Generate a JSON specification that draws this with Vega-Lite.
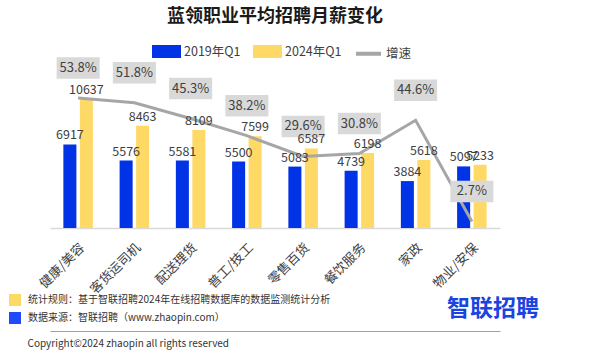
{
  "$schema": "https://vega.github.io/schema/vega-lite/v6.json",
  "width": 450,
  "height": 145,
  "autosize": {"type": "none"},
  "padding": {"left": 50, "top": 83, "right": 103, "bottom": 132},
  "background": "white",
  "config": {"view": {"stroke": null}, "font": "Noto Sans CJK SC"},
  "title": {"text": "蓝领职业平均招聘月薪变化", "fontSize": 18, "font": "Noto Sans CJK SC", "fontWeight": "bold", "color": "#1a1a1a", "anchor": "middle", "frame": "group", "offset": 11},
  "datasets": {
    "bars": [
      {"cat": "健康/美容", "series": "2019年Q1", "value": 6917},
      {"cat": "健康/美容", "series": "2024年Q1", "value": 10637},
      {"cat": "客货运司机", "series": "2019年Q1", "value": 5576},
      {"cat": "客货运司机", "series": "2024年Q1", "value": 8463},
      {"cat": "配送理货", "series": "2019年Q1", "value": 5581},
      {"cat": "配送理货", "series": "2024年Q1", "value": 8109},
      {"cat": "普工/技工", "series": "2019年Q1", "value": 5500},
      {"cat": "普工/技工", "series": "2024年Q1", "value": 7599},
      {"cat": "零售百货", "series": "2019年Q1", "value": 5083},
      {"cat": "零售百货", "series": "2024年Q1", "value": 6587},
      {"cat": "餐饮服务", "series": "2019年Q1", "value": 4739},
      {"cat": "餐饮服务", "series": "2024年Q1", "value": 6198},
      {"cat": "家政", "series": "2019年Q1", "value": 3884},
      {"cat": "家政", "series": "2024年Q1", "value": 5618},
      {"cat": "物业/安保", "series": "2019年Q1", "value": 5097},
      {"cat": "物业/安保", "series": "2024年Q1", "value": 5233}
    ],
    "growth": [
      {"cat": "健康/美容", "rate": 0.538},
      {"cat": "客货运司机", "rate": 0.518},
      {"cat": "配送理货", "rate": 0.453},
      {"cat": "普工/技工", "rate": 0.382},
      {"cat": "零售百货", "rate": 0.296},
      {"cat": "餐饮服务", "rate": 0.308},
      {"cat": "家政", "rate": 0.446},
      {"cat": "物业/安保", "rate": 0.027}
    ],
    "notes": [
      {"note": "统计规则：基于智联招聘2024年在线招聘数据库的数据监测统计分析"},
      {"note": "数据来源：智联招聘（www.zhaopin.com）"}
    ]
  },
  "resolve": {"scale": {"y": "independent"}, "axis": {"x": "independent"}},
  "layer": [
    {
      "data": {"name": "bars"},
      "mark": {"type": "bar"},
      "encoding": {
        "x": {"field": "cat", "type": "nominal",
          "sort": ["健康/美容", "客货运司机", "配送理货", "普工/技工", "零售百货", "餐饮服务", "家政", "物业/安保"],
          "scale": {"paddingInner": 0.475, "paddingOuter": 0.2375},
          "axis": {"orient": "bottom", "labelAngle": -45, "labelFontSize": 13, "labelColor": "#404040", "labelFont": "Noto Sans CJK SC", "domainColor": "#d9d9d9", "domainWidth": 1.5, "ticks": false, "labelPadding": 13,
            "title": "Copyright©2024 zhaopin all rights reserved", "titleFontSize": 10, "titleFontWeight": "normal", "titleColor": "#333333", "titleFont": "Noto Sans CJK SC", "titleAnchor": "start", "titleAlign": "left", "titleX": -23, "titleY": 115, "titleBaseline": "middle"}},
        "xOffset": {"field": "series", "type": "nominal", "scale": {"paddingInner": 0.21, "paddingOuter": 0}},
        "y": {"field": "value", "type": "quantitative", "scale": {"domain": [0, 12000], "nice": false}, "axis": null},
        "color": {"field": "series", "type": "nominal",
          "scale": {"domain": ["2019年Q1", "2024年Q1", "增速"], "range": ["#0033e6", "#ffd966", "#a6a6a6"]},
          "legend": {"orient": "none", "legendX": 102, "legendY": -46, "direction": "horizontal", "title": null,
            "symbolSize": 625, "labelFontSize": 12.5, "labelFont": "Noto Sans CJK SC", "labelColor": "#404040", "columnPadding": 6, "labelOffset": 3,
            "encode": {"symbols": {"update": {
              "shape": {"signal": "datum.value === '增速' ? 'stroke' : 'M-1,-0.36H1V0.36H-1Z'"},
              "fill": {"signal": "datum.value === '增速' ? 'transparent' : (datum.value === '2019年Q1' ? '#0033e6' : '#ffd966')"},
              "stroke": {"signal": "datum.value === '增速' ? '#a6a6a6' : 'transparent'"},
              "strokeWidth": {"value": 4},
              "opacity": {"value": 1}
            }}}}}
      }
    },
    {
      "data": {"name": "growth"},
      "encoding": {
        "x": {"field": "cat", "type": "nominal",
          "sort": ["健康/美容", "客货运司机", "配送理货", "普工/技工", "零售百货", "餐饮服务", "家政", "物业/安保"],
          "axis": {"orient": "bottom", "offset": 103, "labels": false, "ticks": false, "domainColor": "#a0a0a0", "domainWidth": 1, "title": null}},
        "y": {"field": "rate", "type": "quantitative", "scale": {"domain": [0, 0.6], "nice": false}, "axis": null}
      },
      "layer": [
        {
          "mark": {"type": "line", "strokeWidth": 3},
          "encoding": {"color": {"datum": "增速"}}
        },
        {
          "mark": {"type": "point", "shape": "M-1,-0.5H1V0.5H-1Z", "size": 1849, "filled": true, "color": "#d9d9d9", "opacity": 1, "yOffset": -30, "strokeWidth": 0}
        },
        {
          "mark": {"type": "text", "baseline": "middle", "yOffset": -30, "fontSize": 13, "font": "Noto Sans CJK SC", "color": "#404040"},
          "encoding": {"text": {"field": "rate", "type": "quantitative", "format": ".1%"}}
        }
      ]
    },
    {
      "data": {"name": "bars"},
      "mark": {"type": "text", "baseline": "bottom", "dy": -2, "fontSize": 12.5, "font": "Noto Sans CJK SC", "color": "#404040"},
      "encoding": {
        "x": {"field": "cat", "type": "nominal",
          "sort": ["健康/美容", "客货运司机", "配送理货", "普工/技工", "零售百货", "餐饮服务", "家政", "物业/安保"],
          "axis": null},
        "xOffset": {"field": "series", "type": "nominal", "scale": {"paddingInner": 0.21, "paddingOuter": 0}},
        "y": {"field": "value", "type": "quantitative", "scale": {"domain": [0, 12000], "nice": false}, "axis": null},
        "text": {"field": "value", "type": "quantitative", "format": "d"}
      }
    },
    {
      "data": {"name": "notes"},
      "mark": {"type": "point", "filled": true, "opacity": 0, "shape": "square"},
      "encoding": {
        "fill": {"field": "note", "type": "nominal",
          "scale": {"domain": ["统计规则：基于智联招聘2024年在线招聘数据库的数据监测统计分析", "数据来源：智联招聘（www.zhaopin.com）"], "range": ["#ffd966", "#1f4bff"]},
          "legend": {"orient": "none", "legendX": -41, "legendY": 211, "direction": "vertical", "symbolType": "square", "symbolSize": 144, "symbolOpacity": 1, "symbolStrokeWidth": 0,
            "labelFontSize": 10, "labelFont": "Noto Sans CJK SC", "labelColor": "#333333", "labelLimit": 400, "labelOffset": 7, "rowPadding": 6,
            "title": "智联招聘", "titleOrient": "right", "titlePadding": 117, "titleFontSize": 23, "titleFontWeight": "bold", "titleColor": "#1a44e0", "titleFont": "Noto Sans CJK SC", "titleAnchor": "middle", "titleBaseline": "middle"}}
      }
    }
  ]
}
